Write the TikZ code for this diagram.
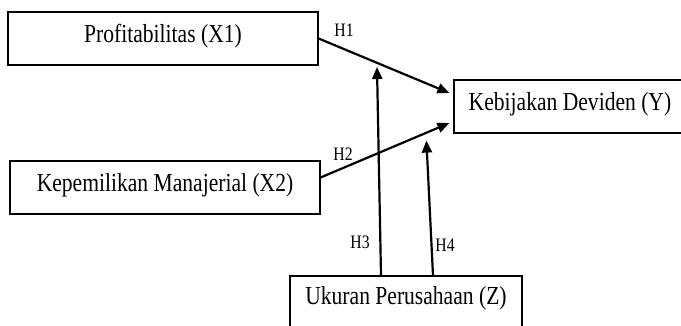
\documentclass[tikz,border=0pt]{standalone}
\usepackage{fontspec}
\setmainfont[FakeStretch=0.83]{Liberation Serif}
\usetikzlibrary{arrows.meta,calc}

\begin{document}
\begin{tikzpicture}[
    x=1pt, y=-1pt,
    box/.style={rectangle, draw=black, line width=1.2pt, inner sep=0pt,
                minimum height=53pt, text height=20pt, text depth=12pt,
                font=\fontsize{26}{30}\selectfont},
    link/.style={black, line width=2.2pt, -{Triangle[length=12pt,width=10pt]}},
    hyp/.style={font=\fontsize{19}{23}\selectfont, inner sep=0pt},
]
\path[use as bounding box, clip] (0,0) rectangle (681,326);

% ---- variables ----
\node[box, minimum width=310pt] (X1) at (163,38.5) {Profitabilitas (X1)};
\node[box, minimum width=310pt] (X2) at (165,187.5) {Kepemilikan Manajerial (X2)};
\node[box, minimum width=232pt] (Y)  at (570,106.5) {Kebijakan Deviden (Y)};
\node[box, minimum width=232pt, minimum height=70pt, text depth=32pt]
    (Z) at (406,311) {Ukuran Perusahaan (Z)};

% ---- arrow ends ----
\coordinate (h1tip) at ($(Y.west)+(-4,-13.5)$);
\coordinate (h2tip) at ($(Y.west)+(-4,16.5)$);
\coordinate (h3tip) at (377,67);
\coordinate (h4tip) at ($(Y.south west)+(-27,7)$);

% ---- hypotheses ----
\draw[link] (X1.east) -- (h1tip);
\draw[link] ([yshift=10pt]X2.east) -- (h2tip);
\draw[link] ([xshift=-25pt]Z.north) -- (h3tip);
\draw[link] ([xshift=27pt]Z.north) -- (h4tip);

\node[hyp] (H1) at (344,30.5) {H1};
\node[hyp] (H2) at (343,154) {H2};
\node[hyp] (H3) at (360,242.5) {H3};
\node[hyp] (H4) at (445,245) {H4};
\end{tikzpicture}
\end{document}
